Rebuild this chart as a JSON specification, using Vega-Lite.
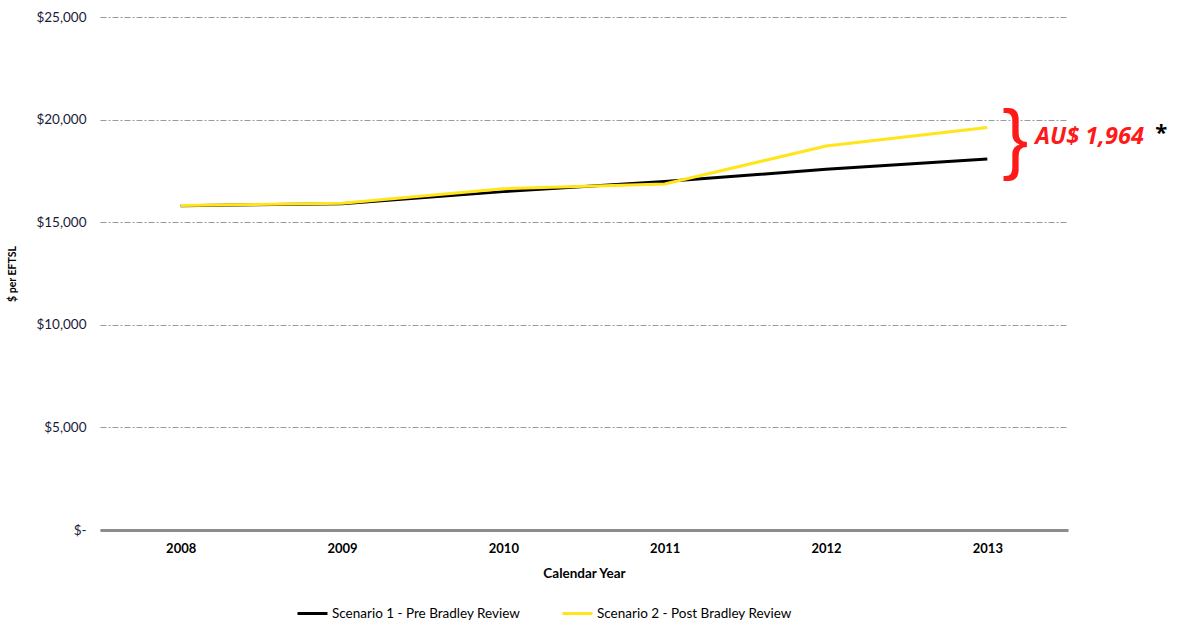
{
  "$schema": "https://vega.github.io/schema/vega-lite/v6.json",
  "autosize": "none",
  "width": 968,
  "height": 513,
  "padding": {"left": 100, "top": 17, "right": 109, "bottom": 94},
  "background": "white",
  "config": {
    "font": "Lato",
    "view": {"stroke": null}
  },
  "datasets": {
    "series": [
      {"year": "2008", "scenario": "Scenario 1 - Pre Bradley Review", "cost": 15800},
      {"year": "2009", "scenario": "Scenario 1 - Pre Bradley Review", "cost": 15900},
      {"year": "2010", "scenario": "Scenario 1 - Pre Bradley Review", "cost": 16490},
      {"year": "2011", "scenario": "Scenario 1 - Pre Bradley Review", "cost": 16980},
      {"year": "2012", "scenario": "Scenario 1 - Pre Bradley Review", "cost": 17580},
      {"year": "2013", "scenario": "Scenario 1 - Pre Bradley Review", "cost": 18080},
      {"year": "2008", "scenario": "Scenario 2 - Post Bradley Review", "cost": 15810},
      {"year": "2009", "scenario": "Scenario 2 - Post Bradley Review", "cost": 15920},
      {"year": "2010", "scenario": "Scenario 2 - Post Bradley Review", "cost": 16630},
      {"year": "2011", "scenario": "Scenario 2 - Post Bradley Review", "cost": 16860},
      {"year": "2012", "scenario": "Scenario 2 - Post Bradley Review", "cost": 18710},
      {"year": "2013", "scenario": "Scenario 2 - Post Bradley Review", "cost": 19610}
    ],
    "note": [
      {"year": "2013", "cost": 18750, "brace": "}", "label": "AU$ 1,964", "star": "*"}
    ]
  },
  "layer": [
    {
      "data": {"name": "series"},
      "mark": {"type": "line", "strokeWidth": 3},
      "encoding": {
        "x": {
          "field": "year", "type": "ordinal",
          "scale": {"type": "point", "padding": 0.5},
          "axis": {
            "title": "Calendar Year", "titleFontSize": 13.5, "titleFontWeight": "bold", "titleColor": "#000", "titlePadding": 11,
            "labelAngle": 0, "labelFontSize": 13, "labelFontWeight": "bold", "labelColor": "#000", "labelPadding": 12,
            "ticks": false, "domainColor": "#8c8c8c", "domainWidth": 3, "grid": false
          }
        },
        "y": {
          "field": "cost", "type": "quantitative",
          "scale": {"domain": [0, 25000], "nice": false},
          "axis": {
            "title": "$ per EFTSL", "titleFontSize": 10.5, "titleFontWeight": "bold", "titleColor": "#000", "titlePadding": 18,
            "values": [0, 5000, 10000, 15000, 20000, 25000],
            "labelExpr": "datum.value == 0 ? '$-' : '$' + format(datum.value, ',')",
            "labelFontSize": 13.5, "labelColor": "#1a1a3a", "labelPadding": 14,
            "ticks": false, "domain": false,
            "grid": true, "gridColor": "#9a9a9a", "gridDash": [6, 2, 2, 2], "gridWidth": 1
          }
        },
        "color": {
          "field": "scenario", "type": "nominal",
          "scale": {"range": ["#000000", "#FFE51A"]},
          "legend": {
            "title": null, "orient": "none", "legendX": 196, "legendY": 580, "direction": "horizontal",
            "symbolType": "stroke", "symbolStrokeWidth": 3, "symbolSize": 900,
            "labelFontSize": 13.5, "labelLimit": 400, "labelColor": "#000", "labelOffset": 3, "columnPadding": 35
          }
        }
      }
    },
    {
      "data": {"name": "note"},
      "mark": {"type": "text", "color": "#ff1a1a", "fontSize": 78, "font": "Liberation Sans", "fontWeight": "normal", "dx": 28, "dy": -3, "align": "center", "baseline": "middle"},
      "encoding": {
        "x": {"field": "year", "type": "ordinal"},
        "y": {"field": "cost", "type": "quantitative"},
        "text": {"field": "brace"}
      }
    },
    {
      "data": {"name": "note"},
      "mark": {"type": "text", "color": "#ff1a1a", "fontSize": 23.5, "font": "Open Sans", "fontWeight": "bold", "fontStyle": "italic", "dx": 48, "dy": -8, "align": "left", "baseline": "middle"},
      "encoding": {
        "x": {"field": "year", "type": "ordinal"},
        "y": {"field": "cost", "type": "quantitative"},
        "text": {"field": "label"}
      }
    },
    {
      "data": {"name": "note"},
      "mark": {"type": "text", "color": "#000", "fontSize": 22, "font": "Open Sans", "fontWeight": "bold", "dx": 168, "dy": -12, "align": "left", "baseline": "middle"},
      "encoding": {
        "x": {"field": "year", "type": "ordinal"},
        "y": {"field": "cost", "type": "quantitative"},
        "text": {"field": "star"}
      }
    }
  ]
}
